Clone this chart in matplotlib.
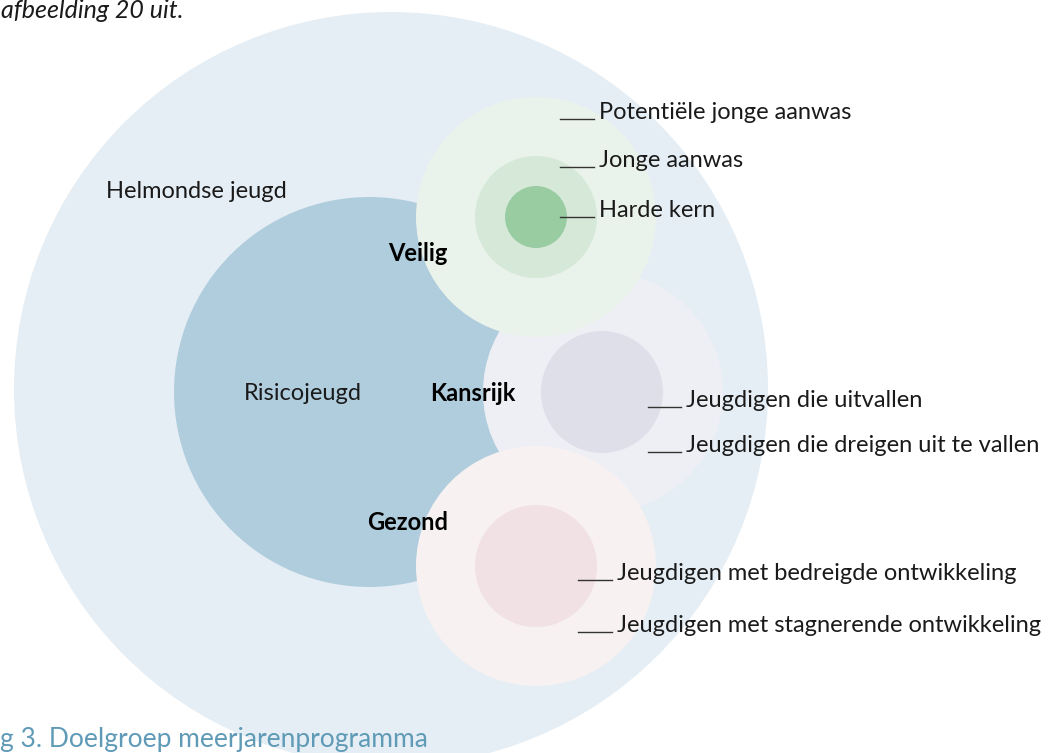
import matplotlib.pyplot as plt
from matplotlib.patches import Circle

# labels of the diagram
outer_label = "Helmondse jeugd"
risk_label = "Risicojeugd"
groups = ["Veilig", "Kansrijk", "Gezond"]
veilig_layers = ["Potentiële jonge aanwas", "Jonge aanwas", "Harde kern"]
kansrijk_layers = ["Jeugdigen die uitvallen", "Jeugdigen die dreigen uit te vallen"]
gezond_layers = ["Jeugdigen met bedreigde ontwikkeling", "Jeugdigen met stagnerende ontwikkeling"]
caption = "g 3. Doelgroep meerjarenprogramma"
top_text = "afbeelding 20 uit."

plt.rcParams['font.family'] = ['Lato', 'DejaVu Sans']

fig = plt.figure(figsize=(10.51, 7.53), dpi=100)
ax = fig.add_axes([0, 0, 1, 1])
ax.set_xlim(0, 1051)
ax.set_ylim(753, 0)
ax.axis('off')

def disc(x, y, r, color):
    ax.add_patch(Circle((x, y), r, facecolor=color, edgecolor='none'))

# background and risk group
disc(391, 389, 377, "#e5eef4")
disc(369, 392, 195, "#b0cddd")

# kansrijk (lavender)
disc(603, 392, 120, "#eeeff5")
disc(602, 392, 61, "#dfdfe9")

# veilig (green)
disc(536, 217, 120, "#eaf3eb")
disc(536, 217, 61, "#d6e9d8")
disc(536, 217, 31, "#9acca2")

# gezond (pink)
disc(536, 566, 120, "#f7f1f2")
disc(536, 566, 61, "#f1e1e4")

txt = "#1a1a1a"
fs = 17
ax.text(196, 191, outer_label, ha='center', va='center', fontsize=fs, color=txt)
ax.text(303, 393, risk_label, ha='center', va='center', fontsize=fs, color=txt)

group_pos = [(418, 253), (473, 393), (408, 523)]
for name, (gx, gy) in zip(groups, group_pos):
    ax.text(gx, gy, name, ha='center', va='center', fontsize=fs,
            fontweight='bold', color='black')

def leaders(names, x0, x1, ys):
    for name, y in zip(names, ys):
        ax.plot([x0, x1], [y, y], color="#333333", lw=1)
        ax.text(x1 + 5, y, name, ha='left', va='baseline', fontsize=fs, color=txt)

leaders(veilig_layers, 560, 594, [119, 167, 217])
leaders(kansrijk_layers, 648, 681, [407, 452])
leaders(gezond_layers, 578, 612, [580, 632])

ax.text(0, 747, caption, ha='left', va='baseline', fontsize=19, color="#5f9ab7")
ax.text(1, 18, top_text, ha='left', va='baseline', fontsize=18,
        style='italic', color=txt)

fig.savefig("out.png", dpi=100)
